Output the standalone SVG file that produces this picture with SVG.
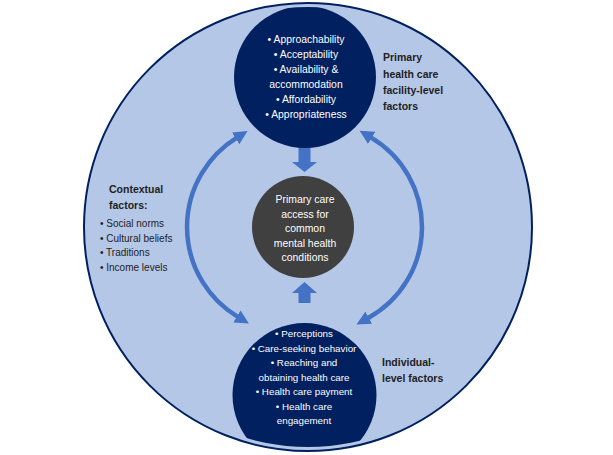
<svg xmlns="http://www.w3.org/2000/svg" width="613" height="455" viewBox="0 0 613 455">
<style>
.lbl{font-family:"Liberation Sans",Arial,sans-serif;font-size:10.5px;fill:#1e1e1e}
.b{font-weight:bold}
.w{font-family:"Liberation Sans",Arial,sans-serif;font-size:10.4px;fill:#ffffff;text-anchor:middle}
.s{font-size:9.8px}
.ctx{font-family:"Liberation Sans",Arial,sans-serif;font-size:10px;fill:#1e1e1e}
.navy{fill:#002060}
.arc{fill:none;stroke:#4472C4;stroke-width:4.5}
.blk{fill:#4472C4}
</style>
<defs>
<clipPath id="inner"><circle cx="308" cy="227" r="220"/></clipPath>
<marker id="ah" markerUnits="userSpaceOnUse" markerWidth="16" markerHeight="16" viewBox="0 -8 16 16" refX="1" refY="0" orient="auto-start-reverse">
<path d="M0,-7 L14,0 L0,7 z" fill="#4472C4"/>
</marker>
</defs>
<g id="outer">
<circle cx="308" cy="227" r="224" fill="#B4C7E7" stroke="#002060" stroke-width="2"/>
</g>
<g id="connectors">
<path class="arc" d="M236.5,137.9 A105,105 0 0 0 237.8,316.9" marker-start="url(#ah)" marker-end="url(#ah)"/>
<path class="arc" d="M370.8,137.4 A104,104 0 0 1 367.9,318.2" marker-start="url(#ah)" marker-end="url(#ah)"/>
<polygon class="blk" points="298.5,146 310.5,146 310.5,162 317,162 304.5,172 292,162 298.5,162"/>
<polygon class="blk" points="298.5,303 310.5,303 310.5,293 317,293 304.5,282 292,293 298.5,293"/>
</g>
<g id="facility" clip-path="url(#inner)">
<circle class="navy" cx="305" cy="77" r="71"/>
<text class="w" x="306" y="43">• Approachability</text>
<text class="w" x="306" y="58">• Acceptability</text>
<text class="w" x="306" y="73">• Availability &amp;</text>
<text class="w" x="306" y="88">accommodation</text>
<text class="w" x="306" y="103">• Affordability</text>
<text class="w" x="306" y="118">• Appropriateness</text>
</g>
<g id="access">
<circle cx="303" cy="227" r="51" fill="#404040"/>
<text class="w" x="305" y="203">Primary care</text>
<text class="w" x="305" y="217.5">access for</text>
<text class="w" x="305" y="232">common</text>
<text class="w" x="305" y="246.5">mental health</text>
<text class="w" x="305" y="261">conditions</text>
</g>
<g id="individual" clip-path="url(#inner)">
<circle class="navy" cx="304.5" cy="395" r="72"/>
<text class="w s" x="304" y="337">• Perceptions</text>
<text class="w s" x="304" y="351.5">• Care-seeking behavior</text>
<text class="w s" x="304" y="366">• Reaching and</text>
<text class="w s" x="304" y="380.5">obtaining health care</text>
<text class="w s" x="304" y="395">• Health care payment</text>
<text class="w s" x="304" y="409.5">• Health care</text>
<text class="w s" x="304" y="423.5">engagement</text>
</g>
<g id="facility-label">
<text class="lbl b" x="383" y="61">Primary</text>
<text class="lbl b" x="383" y="77.5">health care</text>
<text class="lbl b" x="383" y="94">facility-level</text>
<text class="lbl b" x="383" y="110">factors</text>
</g>
<g id="individual-label">
<text class="lbl b" x="382" y="366">Individual-</text>
<text class="lbl b" x="382" y="382">level factors</text>
</g>
<g id="contextual">
<text class="lbl b" x="109" y="193">Contextual</text>
<text class="lbl b" x="109" y="208.5">factors:</text>
<text class="ctx" x="100" y="227">• Social norms</text>
<text class="ctx" x="100" y="241.5">• Cultural beliefs</text>
<text class="ctx" x="100" y="256">• Traditions</text>
<text class="ctx" x="100" y="271">• Income levels</text>
</g>
</svg>
